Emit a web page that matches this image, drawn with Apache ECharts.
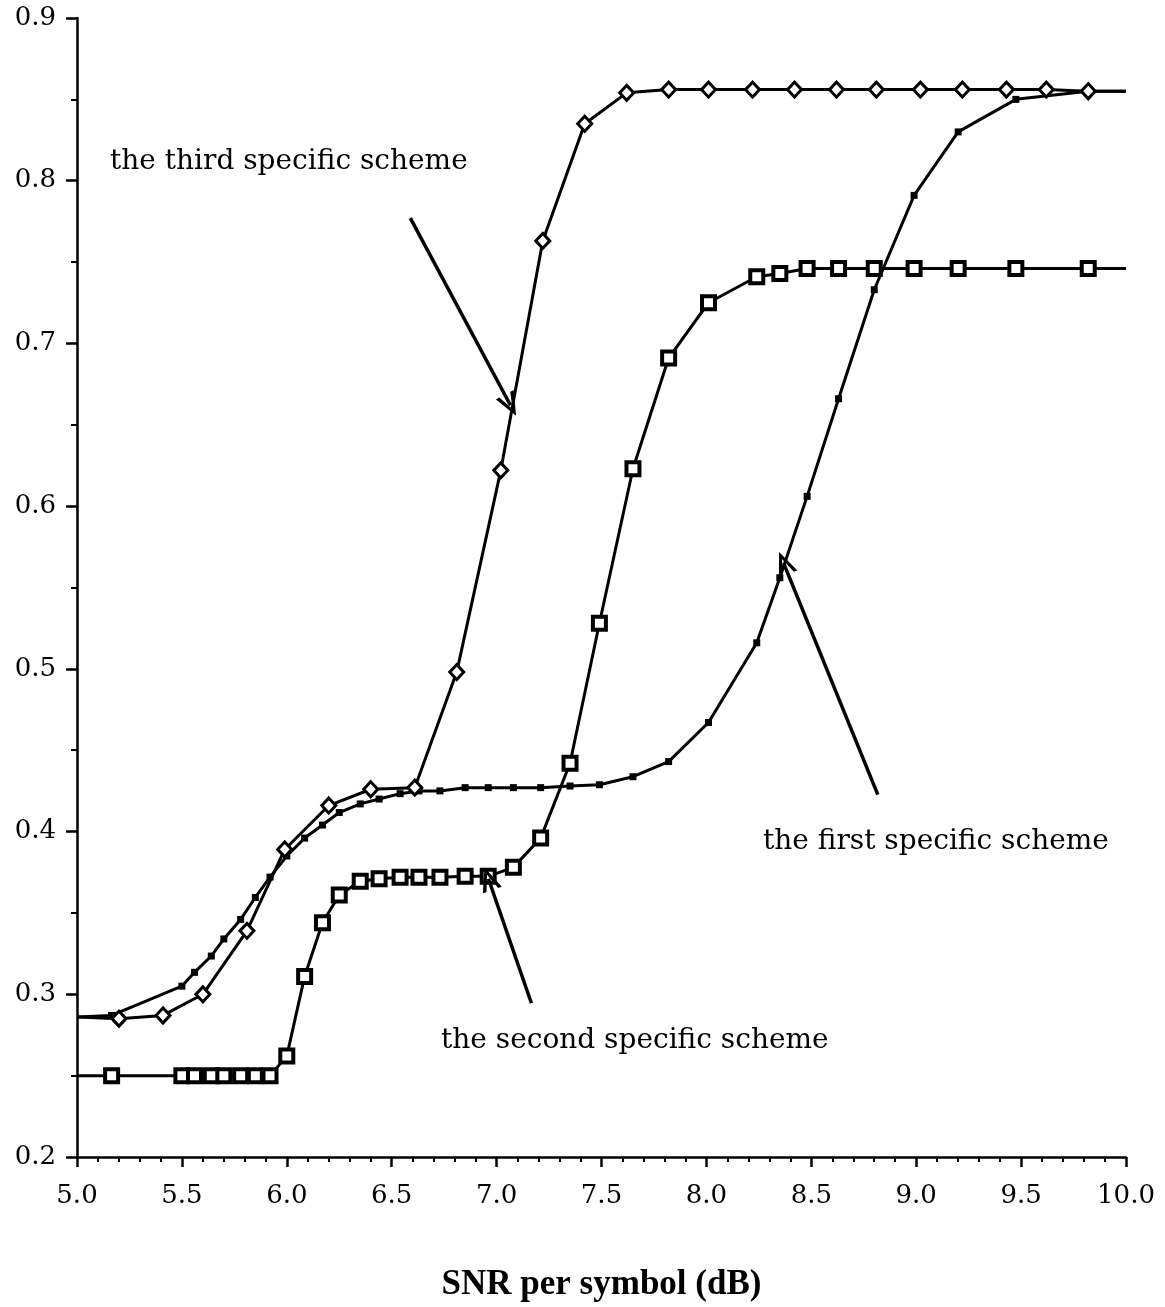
<!DOCTYPE html>
<html>
<head>
<meta charset="utf-8">
<script src="https://cdn.jsdelivr.net/npm/echarts@6/dist/echarts.min.js"></script>
<style>
html,body{margin:0;padding:0;background:#fff;}
#chart{width:1165px;height:1307px;}
</style>
</head>
<body>
<div id="chart"></div>
<script>
// ---- data ----
var xTicks = ['5.0','5.5','6.0','6.5','7.0','7.5','8.0','8.5','9.0','9.5','10.0'];
var yTicks = ['0.2','0.3','0.4','0.5','0.6','0.7','0.8','0.9'];

// the third specific scheme (open diamonds)
var thirdX = [5.0, 5.2, 5.41, 5.60, 5.81, 5.99, 6.2, 6.4, 6.61, 6.81, 7.02, 7.22, 7.42, 7.62, 7.82, 8.01, 8.22, 8.42, 8.62, 8.81, 9.02, 9.22, 9.43, 9.62, 9.82, 10.0];
var thirdY = [0.286, 0.285, 0.287, 0.300, 0.339, 0.389, 0.416, 0.426, 0.427, 0.498, 0.622, 0.763, 0.835, 0.854, 0.856, 0.856, 0.856, 0.856, 0.856, 0.856, 0.856, 0.856, 0.856, 0.856, 0.855, 0.855];

// shared x grid for the first and second schemes
var gridX = [5.0, 5.165, 5.50, 5.56, 5.64, 5.70, 5.78, 5.85, 5.92, 6.00, 6.085, 6.17, 6.25, 6.35, 6.44, 6.54, 6.63, 6.73, 6.85, 6.96, 7.08, 7.21, 7.35, 7.49, 7.65, 7.82, 8.01, 8.24, 8.35, 8.48, 8.63, 8.80, 8.99, 9.20, 9.475, 9.82, 10.0];
// the first specific scheme (small filled squares)
var firstY = [0.286, 0.287, 0.305, 0.3135, 0.3235, 0.334, 0.346, 0.3595, 0.372, 0.385, 0.396, 0.404, 0.4117, 0.417, 0.420, 0.4233, 0.425, 0.425, 0.427, 0.427, 0.427, 0.427, 0.428, 0.4288, 0.4337, 0.443, 0.467, 0.516, 0.556, 0.606, 0.666, 0.733, 0.791, 0.830, 0.850, 0.855, 0.855];
// the second specific scheme (open squares)
var secondY = [0.25, 0.25, 0.25, 0.25, 0.25, 0.25, 0.25, 0.25, 0.25, 0.262, 0.311, 0.344, 0.361, 0.3695, 0.371, 0.372, 0.372, 0.372, 0.3725, 0.3725, 0.378, 0.396, 0.442, 0.528, 0.623, 0.691, 0.725, 0.741, 0.743, 0.746, 0.746, 0.746, 0.746, 0.746, 0.746, 0.746, 0.746];

// annotation arrows in data units: [tailX, tailY, tipX, tipY]
var arrowThird = [6.589, 0.777, 7.066, 0.662];
var arrowFirst = [8.817, 0.4227, 8.368, 0.565];
var arrowSecond = [7.166, 0.2945, 6.961, 0.371];
var labelThird = 'the third specific scheme';
var labelFirst = 'the first specific scheme';
var labelSecond = 'the second specific scheme';
var xName = 'SNR per symbol (dB)';

// ---- build ----
function pts(xs, ys){
  return xs.map(function(x,i){
    var item = {value:[x, ys[i]]};
    if (i === 0 || i === xs.length-1) item.symbol = 'none';
    return item;
  });
}
var chevron = 'path://M0,0 L10,22 L6.2,22 L0,7 L-6.2,22 L-10,22 Z';
function arrow(a){
  return [{coord:[a[0],a[1]], symbol:'none'}, {coord:[a[2],a[3]], symbol:chevron, symbolSize:[20,24]}];
}

var serif = '"DejaVu Serif", serif';
var annFont = '28px "DejaVu Serif", serif';
var chart = echarts.init(document.getElementById('chart'), null, {renderer:'canvas'});
chart.setOption({
  animation:false,
  backgroundColor:'#fff',
  grid:{left:77, right:39, top:18, bottom:149, containLabel:false},
  xAxis:{
    type:'value', min:5, max:10, interval:0.5,
    axisLine:{show:true, onZero:false, lineStyle:{color:'#000', width:2.5}},
    axisTick:{show:true, inside:false, length:10, lineStyle:{color:'#000', width:2.5}},
    minorTick:{show:true, splitNumber:5, length:5, lineStyle:{color:'#000', width:2}},
    splitLine:{show:false},
    axisLabel:{margin:26, color:'#000', fontFamily:serif, fontSize:26,
      formatter:function(v){ var i=Math.round((v-5)/0.5); return xTicks[i]; }},
    name:xName, nameLocation:'middle', nameGap:110,
    nameTextStyle:{color:'#000', fontFamily:'"Liberation Serif", serif', fontWeight:'bold', fontSize:35}
  },
  yAxis:{
    type:'value', min:0.2, max:0.9, interval:0.1,
    axisLine:{show:true, onZero:false, lineStyle:{color:'#000', width:2.5}},
    axisTick:{show:true, inside:false, length:11, lineStyle:{color:'#000', width:2.5}},
    minorTick:{show:true, splitNumber:2, length:6, lineStyle:{color:'#000', width:2}},
    splitLine:{show:false},
    axisLabel:{margin:21, color:'#000', fontFamily:serif, fontSize:26,
      formatter:function(v){ var i=Math.round((v-0.2)/0.1); return yTicks[i]; }}
  },
  series:[
    {
      type:'line', name:'second', data:pts(gridX, secondY),
      symbol:'rect', symbolSize:13, showAllSymbol:true,
      lineStyle:{color:'#000', width:3},
      itemStyle:{color:'#fff', borderColor:'#000', borderWidth:4},
      markLine:{silent:true, symbol:['none','none'], label:{show:false},
        lineStyle:{color:'#000', width:3.5, type:'solid'},
        data:[arrow(arrowSecond)]}
    },
    {
      type:'line', name:'first', data:pts(gridX, firstY),
      symbol:'rect', symbolSize:7, showAllSymbol:true,
      lineStyle:{color:'#000', width:3},
      itemStyle:{color:'#000', borderColor:'#000', borderWidth:0},
      markLine:{silent:true, symbol:['none','none'], label:{show:false},
        lineStyle:{color:'#000', width:3.5, type:'solid'},
        data:[arrow(arrowFirst)]}
    },
    {
      type:'line', name:'third', data:pts(thirdX, thirdY),
      symbol:'diamond', symbolSize:[14,15], showAllSymbol:true,
      lineStyle:{color:'#000', width:3},
      itemStyle:{color:'#fff', borderColor:'#000', borderWidth:3},
      markLine:{silent:true, symbol:['none','none'], label:{show:false},
        lineStyle:{color:'#000', width:3.5, type:'solid'},
        data:[arrow(arrowThird)]}
    }
  ],
  graphic:[
    {type:'text', left:110, top:148, style:{text:labelThird, fill:'#000', font:annFont}},
    {type:'text', left:763, top:828, style:{text:labelFirst, fill:'#000', font:annFont}},
    {type:'text', left:441, top:1027, style:{text:labelSecond, fill:'#000', font:annFont}}
  ]
});
</script>
</body>
</html>
